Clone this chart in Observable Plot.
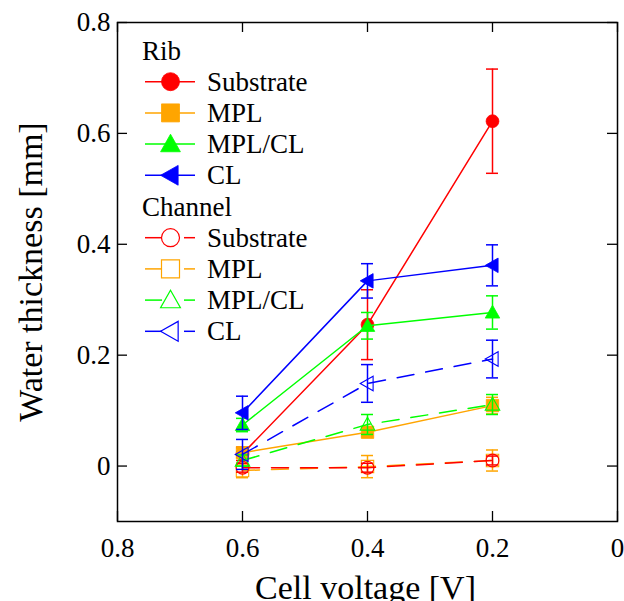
<!DOCTYPE html>
<html><head><meta charset="utf-8">
<script src="https://cdn.jsdelivr.net/npm/d3@7"></script>
<script src="https://cdn.jsdelivr.net/npm/@observablehq/plot@0.6"></script>
<style>
body{margin:0;background:#fff}
#chart{width:624px;height:601px;overflow:hidden}
svg{font-family:"Liberation Serif","Times New Roman",serif}
</style>
</head><body><div id="chart"></div>
<script>
// ---- data ----
const voltage = [0.6, 0.4, 0.2];
const seriesNames = ["Substrate", "MPL", "MPL/CL", "CL"];
const seriesColors = ["#ff0000", "#ffa500", "#00ff00", "#0000ff"];
const groupNames = ["Rib", "Channel"];

const ribSubstrate = [0.022, 0.255, 0.622];
const ribSubstrateErr = [0.012, 0.063, 0.094];
const ribMPL = [0.024, 0.061, 0.109];
const ribMPLErr = [0.008, 0.008, 0.015];
const ribMPLCL = [0.074, 0.253, 0.277];
const ribMPLCLErr = [0.012, 0.024, 0.030];
const ribCL = [0.096, 0.334, 0.362];
const ribCLErr = [0.030, 0.031, 0.037];

const chSubstrate = [-0.003, -0.003, 0.010];
const chSubstrateErr = [0.008, 0.008, 0.008];
const chMPL = [-0.008, -0.001, 0.010];
const chMPLErr = [0.013, 0.020, 0.019];
const chMPLCL = [0.010, 0.075, 0.111];
const chMPLCLErr = [0.010, 0.018, 0.018];
const chCL = [0.021, 0.149, 0.193];
const chCLErr = [0.027, 0.034, 0.034];

const xTicks = [0.8, 0.6, 0.4, 0.2, 0];
const yTicks = [0, 0.2, 0.4, 0.6, 0.8];
const xLabel = "Cell voltage [V]";
const yLabel = "Water thickness [mm]";

// ---- symbols ----
const rOf = size => Math.sqrt(size / Math.PI);
const symSquare = {draw(c, size){const r = rOf(size); c.moveTo(-r,-r); c.lineTo(r,-r); c.lineTo(r,r); c.lineTo(-r,r); c.closePath();}};
const symTriUp = {draw(c, size){const r = rOf(size); c.moveTo(0,-1.1*r); c.lineTo(1.1*r,0.85*r); c.lineTo(-1.1*r,0.85*r); c.closePath();}};
const symTriLeft = {draw(c, size){const r = rOf(size); c.moveTo(-1.1*r,0); c.lineTo(0.85*r,-1.1*r); c.lineTo(0.85*r,1.1*r); c.closePath();}};
const symCircle = {draw(c, size){const r = rOf(size); c.moveTo(r,0); c.arc(0,0,r,0,2*Math.PI); c.closePath();}};
const seriesSymbols = [symCircle, symSquare, symTriUp, symTriLeft];
const markerR = [6.4, 6.2, 6.6, 6.6];

const seriesValues = {
  Rib: [[ribSubstrate, ribSubstrateErr], [ribMPL, ribMPLErr], [ribMPLCL, ribMPLCLErr], [ribCL, ribCLErr]],
  Channel: [[chSubstrate, chSubstrateErr], [chMPL, chMPLErr], [chMPLCL, chMPLCLErr], [chCL, chCLErr]]
};

const W = 624, H = 601;
const mL = 117, mR = 7, mT = 22, mB = 80;
const innerW = W - mL - mR, innerH = H - mT - mB;
const tickLen = 10;
const black = "#000";
const fmt = d => String(d);

const marks = [];
// ticks inside on all four sides
marks.push(Plot.tickX(xTicks, {x: d => d, insetTop: innerH - tickLen, stroke: black, strokeWidth: 1.3}));
marks.push(Plot.tickX(xTicks, {x: d => d, insetBottom: innerH - tickLen, stroke: black, strokeWidth: 1.3}));
marks.push(Plot.tickY(yTicks, {y: d => d, insetRight: innerW - tickLen, stroke: black, strokeWidth: 1.3}));
marks.push(Plot.tickY(yTicks, {y: d => d, insetLeft: innerW - tickLen, stroke: black, strokeWidth: 1.3}));
marks.push(Plot.axisX(xTicks, {tickSize: 0, tickPadding: 16, fontSize: 27, label: null, fill: black, tickFormat: fmt}));
marks.push(Plot.axisY(yTicks, {tickSize: 0, tickPadding: 7, fontSize: 27, label: null, fill: black, tickFormat: fmt}));

const order = [["Rib",0],["Rib",1],["Rib",2],["Rib",3],["Channel",1],["Channel",0],["Channel",2],["Channel",3]];
for (const [g, k] of order) {
  const [vals, errs] = seriesValues[g][k];
  const rows = voltage.map((v, i) => ({v, t: vals[i], e: errs[i]}));
  const color = seriesColors[k];
  const dash = g === "Channel" ? "17,12" : null;
  marks.push(Plot.line(rows, {x: "v", y: "t", stroke: color, strokeWidth: 1.5, strokeDasharray: dash}));
  marks.push(Plot.ruleX(rows, {x: "v", y1: d => d.t - d.e, y2: d => d.t + d.e, stroke: color, strokeWidth: 1.5}));
  marks.push(Plot.ruleY(rows, {y: d => d.t + d.e, x1: "v", x2: "v", insetLeft: -6, insetRight: -6, stroke: color, strokeWidth: 1.5}));
  marks.push(Plot.ruleY(rows, {y: d => d.t - d.e, x1: "v", x2: "v", insetLeft: -6, insetRight: -6, stroke: color, strokeWidth: 1.5}));
  marks.push(Plot.dot(rows, {
    x: "v", y: "t", symbol: seriesSymbols[k], r: markerR[k],
    fill: g === "Rib" ? color : "none", stroke: color, strokeWidth: g === "Rib" ? 0.8 : 1.1
  }));
}
marks.push(Plot.frame({stroke: black, strokeWidth: 1.5}));
marks.push(Plot.text([xLabel], {frameAnchor: "bottom", lineAnchor: "bottom", textAnchor: "middle", dy: 77, dx: -2, fontSize: 34, fill: black}));
marks.push(Plot.text([yLabel], {frameAnchor: "left", lineAnchor: "bottom", textAnchor: "middle", rotate: -90, dx: -76, fontSize: 34, fill: black}));

const plot = Plot.plot({
  width: W, height: H,
  marginLeft: mL, marginRight: mR, marginTop: mT, marginBottom: mB,
  style: {fontFamily: "Liberation Serif", background: "#fff", color: "#000", overflow: "visible"},
  x: {domain: [0.8, 0], axis: null},
  y: {domain: [-0.1, 0.8], axis: null},
  marks
});
document.getElementById("chart").append(plot);

// ---- legend ----
const svg = d3.select(plot);
const lg = svg.append("g").attr("font-family", "Liberation Serif").attr("font-size", 27).attr("text-anchor", "start").attr("fill", black);
const rowStep = 31.2, row0 = 50.5;
const lineX1 = 145, lineX2 = 195, markX = 170.5, textX = 207, headX = 142;
const legendR = 9;
let row = 0;
for (const g of groupNames) {
  lg.append("text").attr("x", headX).attr("y", row0 + row * rowStep + 9).attr("text-anchor", "start").text(g);
  row++;
  seriesNames.forEach((name, k) => {
    const cy = row0 + row * rowStep;
    const color = seriesColors[k];
    if (g === "Rib") {
      lg.append("line").attr("x1", lineX1).attr("x2", lineX2).attr("y1", cy).attr("y2", cy).attr("stroke", color).attr("stroke-width", 1.5);
    } else {
      lg.append("line").attr("x1", lineX1).attr("x2", 162).attr("y1", cy).attr("y2", cy).attr("stroke", color).attr("stroke-width", 1.5);
      lg.append("line").attr("x1", 184).attr("x2", lineX2).attr("y1", cy).attr("y2", cy).attr("stroke", color).attr("stroke-width", 1.5);
    }
    const p = d3.symbol(seriesSymbols[k], Math.PI * legendR * legendR)();
    lg.append("path").attr("d", p).attr("transform", `translate(${markX},${cy})`)
      .attr("fill", g === "Rib" ? color : "none").attr("stroke", color).attr("stroke-width", g === "Rib" ? 0.8 : 1.2);
    lg.append("text").attr("x", textX).attr("y", cy + 9).attr("text-anchor", "start").text(name);
    row++;
  });
}
</script>
</body></html>
